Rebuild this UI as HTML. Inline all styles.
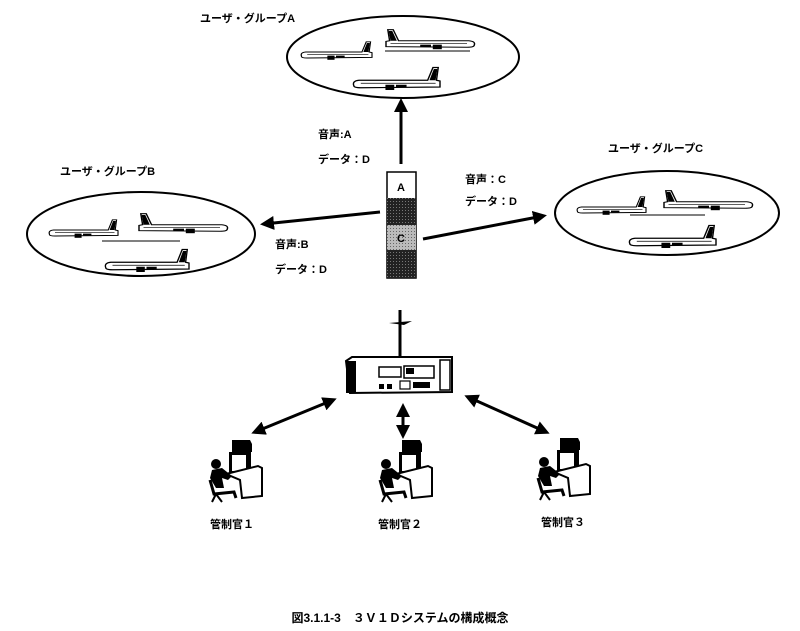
<!DOCTYPE html>
<html><head><meta charset="utf-8"><style>
html,body{margin:0;padding:0;background:#fff;}
svg{display:block}
text{font-family:"Liberation Sans","Noto Sans CJK JP",sans-serif;font-weight:bold;fill:#000}
</style></head><body>
<svg width="800" height="631" viewBox="0 0 800 631" xmlns="http://www.w3.org/2000/svg">
<defs>
<g id="pl">
  <path d="M2,2 Q0,-4 8,-5 L86,-5 L92,-22 L98,-22 L96,-5 L100,-4 L100,4 L10,5 Q2,5 2,2 Z" fill="#fff" stroke="#000" stroke-width="1.6"/>
  <path d="M88,-5 L93,-20 L97,-20 L95,-5 Z" fill="#000"/>
  <line x1="10" y1="-1" x2="95" y2="-1" stroke="#000" stroke-width="1"/>
  <rect x="38" y="1" width="10" height="7" fill="#000"/>
  <rect x="50" y="1" width="12" height="3" fill="#000"/>
</g>
<marker id="ah2" markerWidth="14" markerHeight="14" refX="10" refY="7" orient="auto-start-reverse" markerUnits="userSpaceOnUse" viewBox="0 0 14 14">
  <path d="M0,0 L14,7 L0,14 Z" fill="#000"/>
</marker>
<pattern id="dk" width="3" height="3" patternUnits="userSpaceOnUse"><rect width="3" height="3" fill="#222"/><rect width="1" height="1" fill="#777"/></pattern>
<pattern id="gy" width="3" height="3" patternUnits="userSpaceOnUse"><rect width="3" height="3" fill="#bbb"/><rect width="1" height="1" fill="#666"/></pattern>
<g id="ws">
  <path d="M20,0 L38,0 L40,4 L40,12 L20,12 Z" fill="#000"/>
  <rect x="17" y="12" width="22" height="22" fill="#000"/>
  <rect x="20" y="15" width="14" height="16" fill="#fff"/>
  <path d="M14,34 L46,26 L50,28 L50,56 L30,58 L28,40 Z" fill="#fff" stroke="#000" stroke-width="2"/>
  <circle cx="4" cy="24" r="5" fill="#000"/>
  <path d="M0,30 L10,28 L20,36 L16,40 L10,38 L12,48 L4,48 L-2,38 Z" fill="#000"/>
  <path d="M-2,40 L2,54 L22,52 L24,58" fill="none" stroke="#000" stroke-width="3"/>
  <path d="M4,54 L0,62 M4,54 L10,62" stroke="#000" stroke-width="2"/>
</g>
</defs>

<text x="200" y="22" font-size="11">ユーザ・グループA</text>
<ellipse cx="403" cy="57" rx="116" ry="41" fill="none" stroke="#000" stroke-width="2"/>
<use href="#pl" transform="translate(300,55) scale(0.72,0.6)"/>
<use href="#pl" transform="translate(476,44) scale(-0.9,0.65)"/>
<line x1="385" y1="51" x2="470" y2="51" stroke="#000" stroke-width="1"/>
<use href="#pl" transform="translate(352,84) scale(0.88,0.75)"/>

<text x="60" y="175" font-size="11">ユーザ・グループB</text>
<ellipse cx="141" cy="234" rx="114" ry="42" fill="none" stroke="#000" stroke-width="2"/>
<use href="#pl" transform="translate(48,233) scale(0.7,0.6)"/>
<use href="#pl" transform="translate(229,228) scale(-0.9,0.65)"/>
<line x1="102" y1="241" x2="180" y2="241" stroke="#000" stroke-width="1"/>
<use href="#pl" transform="translate(104,266) scale(0.85,0.75)"/>

<text x="608" y="152" font-size="11">ユーザ・グループC</text>
<ellipse cx="667" cy="213" rx="112" ry="42" fill="none" stroke="#000" stroke-width="2"/>
<use href="#pl" transform="translate(576,210) scale(0.7,0.6)"/>
<use href="#pl" transform="translate(754,205) scale(-0.9,0.65)"/>
<line x1="630" y1="215" x2="705" y2="215" stroke="#000" stroke-width="1"/>
<use href="#pl" transform="translate(628,242) scale(0.88,0.75)"/>

<rect x="387" y="172" width="29" height="106" fill="#fff" stroke="#000" stroke-width="1.5"/>
<rect x="387" y="198" width="29" height="27" fill="url(#dk)"/>
<rect x="387" y="225" width="29" height="25" fill="url(#gy)"/>
<rect x="387" y="250" width="29" height="28" fill="url(#dk)"/>
<text x="401" y="191" font-size="11" text-anchor="middle">A</text>
<text x="401" y="242" font-size="11" text-anchor="middle">C</text>

<line x1="401" y1="164" x2="401" y2="102" stroke="#000" stroke-width="3" marker-end="url(#ah2)"/>
<line x1="380" y1="212" x2="264" y2="224" stroke="#000" stroke-width="3" marker-end="url(#ah2)"/>
<line x1="423" y1="239" x2="543" y2="216" stroke="#000" stroke-width="3" marker-end="url(#ah2)"/>

<text x="318" y="138" font-size="11">音声:A</text>
<text x="318" y="163" font-size="11">データ：D</text>
<text x="275" y="248" font-size="11">音声:B</text>
<text x="275" y="273" font-size="11">データ：D</text>
<text x="465" y="183" font-size="11">音声：C</text>
<text x="465" y="205" font-size="11">データ：D</text>

<line x1="400" y1="310" x2="400" y2="360" stroke="#000" stroke-width="3"/>
<path d="M389,323 L412,321 L418,318 L404,325 Z" fill="#000"/>
<path d="M346,361 L352,357 L452,357 L452,392 L350,393 Z" fill="#fff" stroke="#000" stroke-width="2"/>
<rect x="346" y="361" width="10" height="32" fill="#000"/>
<rect x="379" y="367" width="22" height="10" fill="#fff" stroke="#000" stroke-width="1.5"/>
<rect x="404" y="366" width="30" height="12" fill="#fff" stroke="#000" stroke-width="1.5"/>
<rect x="406" y="368" width="8" height="6" fill="#000"/>
<rect x="379" y="384" width="5" height="5" fill="#000"/><rect x="387" y="384" width="5" height="5" fill="#000"/>
<rect x="400" y="381" width="10" height="8" fill="#fff" stroke="#000" stroke-width="1.2"/>
<rect x="413" y="382" width="17" height="6" fill="#000"/>
<rect x="440" y="360" width="10" height="30" fill="#fff" stroke="#000" stroke-width="1.5"/>

<line x1="255" y1="432" x2="333" y2="400" stroke="#000" stroke-width="3" marker-start="url(#ah2)" marker-end="url(#ah2)"/>
<line x1="403" y1="407" x2="403" y2="435" stroke="#000" stroke-width="3" marker-start="url(#ah2)" marker-end="url(#ah2)"/>
<line x1="468" y1="397" x2="546" y2="432" stroke="#000" stroke-width="3" marker-start="url(#ah2)" marker-end="url(#ah2)"/>

<use href="#ws" transform="translate(212,440)"/>
<use href="#ws" transform="translate(382,440)"/>
<use href="#ws" transform="translate(540,438)"/>

<text x="232" y="528" font-size="11" text-anchor="middle">管制官１</text>
<text x="400" y="528" font-size="11" text-anchor="middle">管制官２</text>
<text x="563" y="526" font-size="11" text-anchor="middle">管制官３</text>

<text x="400" y="622" font-size="12" text-anchor="middle">図3.1.1-3　３Ｖ１Ｄシステムの構成概念</text>
</svg>
</body></html>
